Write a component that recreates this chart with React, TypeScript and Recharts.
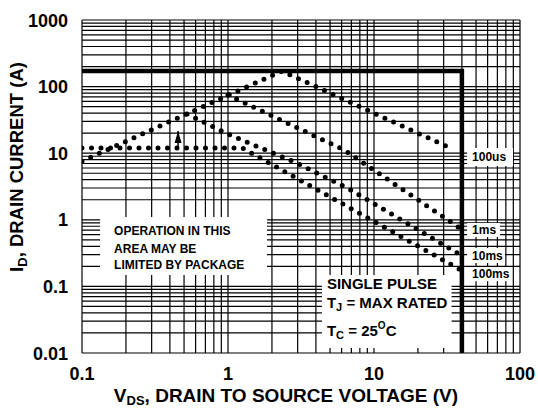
import { ComposedChart, Line, XAxis, YAxis, CartesianGrid, ReferenceArea } from "recharts"

const FONT = "'Liberation Sans', Arial, sans-serif"

// axis ticks (grid lines every 1..9 per decade, labels only on decades)
const xTicks = [0.1, 0.2, 0.3, 0.4, 0.5, 0.6, 0.7, 0.8, 0.9, 1, 2, 3, 4, 5, 6, 7, 8, 9, 10, 20, 30, 40, 50, 60, 70, 80, 90, 100]
const yTicks = [0.01, 0.02, 0.03, 0.04, 0.05, 0.06, 0.07, 0.08, 0.09, 0.1, 0.2, 0.3, 0.4, 0.5, 0.6, 0.7, 0.8, 0.9, 1, 2, 3, 4, 5, 6, 7, 8, 9, 10, 20, 30, 40, 50, 60, 70, 80, 90, 100, 200, 300, 400, 500, 600, 700, 800, 900, 1000]
const xLabels = [0.1, 1, 10, 100]
const yLabels = [0.01, 0.1, 1, 10, 100, 1000]

// curves, v = VDS (V), i = ID (A)
const us100 = [{ v: 0.1, i: 7.6 }, { v: 2.34, i: 171 }, { v: 35.3, i: 11.3 }]
const ms1 = [{ v: 1.0, i: 74.8 }, { v: 6.23, i: 11.2 }, { v: 38.8, i: 0.75 }]
const ms10 = [
  { v: 0.524, i: 38.8 }, { v: 1.03, i: 18.8 }, { v: 2.97, i: 7.1 },
  { v: 6.75, i: 2.9 }, { v: 17.6, i: 0.84 }, { v: 38.8, i: 0.3 }
]
const ms100 = [{ v: 0.1, i: 12 }, { v: 1.25, i: 12 }, { v: 38.8, i: 0.18 }]
const limit = [{ v: 0.1, i: 172 }, { v: 40, i: 172 }, { v: 40, i: 0.01 }]
const arrow = [{ v: 0.455, i: 11.2 }, { v: 0.455, i: 21.5 }]

const XTick = ({ x, y, payload }: any) => {
  if (!xLabels.includes(payload.value)) return <g />
  return (
    <text x={x} y={y + 27} textAnchor="middle" fontSize={18} fontWeight="bold" fontFamily={FONT} fill="#000">
      {String(payload.value)}
    </text>
  )
}

const YTick = ({ x, y, payload }: any) => {
  if (!yLabels.includes(payload.value)) return <g />
  return (
    <text x={x - 14} y={y + 6.5} textAnchor="end" fontSize={18} fontWeight="bold" fontFamily={FONT} fill="#000">
      {String(payload.value)}
    </text>
  )
}

const textProps = { fontWeight: "bold", fontFamily: FONT, fill: "#000" } as any

const PkgNote = ({ viewBox }: any) => {
  const { x, y } = viewBox
  return (
    <text {...textProps} fontSize={12}>
      <tspan x={x + 14} y={y + 17.5}>OPERATION IN THIS</tspan>
      <tspan x={x + 14} y={y + 35.5}>AREA MAY BE</tspan>
      <tspan x={x + 14} y={y + 51.5}>LIMITED BY PACKAGE</tspan>
    </text>
  )
}

const PulseNote = ({ viewBox }: any) => {
  const { x, y } = viewBox
  return (
    <g>
      <text {...textProps} fontSize={15} x={x + 5} y={y + 14}>SINGLE PULSE</text>
      <text {...textProps} fontSize={15} x={x + 5} y={y + 33}>
        T<tspan fontSize={11} dy={3}>J</tspan><tspan dy={-3}> = MAX RATED</tspan>
      </text>
      <text {...textProps} fontSize={15} x={x + 5} y={y + 61}>
        T<tspan fontSize={11} dy={3}>C</tspan><tspan dy={-3}> = 25</tspan>
        <tspan fontSize={10} dy={-7}>O</tspan><tspan dy={7}>C</tspan>
      </text>
    </g>
  )
}

const TagNote = ({ viewBox, text }: any) => {
  const { x, y, height } = viewBox
  return (
    <text {...textProps} fontSize={12} x={x + 5} y={y + height / 2 + 4.3}>{text}</text>
  )
}

const ArrowHead = (props: any) => {
  const { cx, cy, index } = props
  if (index !== arrow.length - 1) return <g key={index} />
  return <polygon key={index} points={`${cx},${cy} ${cx - 3.5},${cy + 12} ${cx + 3.5},${cy + 12}`} fill="#000" />
}

const dotted = {
  dataKey: "i",
  type: "linear" as const,
  stroke: "#000",
  strokeWidth: 5,
  strokeDasharray: "0 9.5",
  strokeLinecap: "round" as const,
  dot: false,
  activeDot: false,
  isAnimationActive: false,
  legendType: "none" as const
}

export default function App() {
  return (
    <div style={{ position: "absolute", left: 0, top: 0, width: 538, height: 409, background: "#fff" }}>
      <ComposedChart width={538} height={409} margin={{ top: 20, right: 18, left: 0, bottom: 0 }}>

        <CartesianGrid stroke="#000" strokeWidth={1.2} />

        <XAxis
          dataKey="v"
          type="number"
          scale="log"
          domain={[0.1, 100]}
          allowDataOverflow
          ticks={xTicks}
          interval={0}
          tick={<XTick />}
          tickLine={false}
          axisLine={false}
          tickSize={0}
          tickMargin={0}
          height={56}
        />
        <YAxis
          dataKey="i"
          type="number"
          scale="log"
          domain={[0.01, 1000]}
          allowDataOverflow
          ticks={yTicks}
          interval={0}
          tick={<YTick />}
          tickLine={false}
          axisLine={false}
          tickSize={0}
          tickMargin={0}
          width={82}
        />

        {/* white note boxes hide the grid */}
        <ReferenceArea x1={0.133} x2={1.85} y1={0.148} y2={1.1} fill="#fff" fillOpacity={1} stroke="none" label={<PkgNote />} />
        <ReferenceArea x1={4.4} x2={34} y1={0.0119} y2={0.148} fill="#fff" fillOpacity={1} stroke="none" label={<PulseNote />} />
        <ReferenceArea x1={43.4} x2={89.6} y1={6.43} y2={12} fill="#fff" fillOpacity={1} stroke="none" label={<TagNote text="100us" />} />
        <ReferenceArea x1={43.4} x2={73} y1={0.552} y2={0.895} fill="#fff" fillOpacity={1} stroke="none" label={<TagNote text="1ms" />} />
        <ReferenceArea x1={43.4} x2={78.9} y1={0.224} y2={0.377} fill="#fff" fillOpacity={1} stroke="none" label={<TagNote text="10ms" />} />
        <ReferenceArea x1={43.4} x2={88} y1={0.12} y2={0.195} fill="#fff" fillOpacity={1} stroke="none" label={<TagNote text="100ms" />} />

        {/* max current / max voltage limit */}
        <Line data={limit} dataKey="i" type="linear" stroke="#000" strokeWidth={4.5} dot={false} activeDot={false} isAnimationActive={false} legendType="none" />

        <Line data={us100} {...dotted} />
        <Line data={ms1} {...dotted} />
        <Line data={ms10} {...dotted} />
        <Line data={ms100} {...dotted} />

        {/* package limit arrow */}
        <Line data={arrow} dataKey="i" type="linear" stroke="#000" strokeWidth={1.5} dot={ArrowHead} activeDot={false} isAnimationActive={false} legendType="none" />

        <text x={286} y={402} textAnchor="middle" fontSize={19} {...textProps}>
          V<tspan fontSize={13} dy={3}>DS</tspan><tspan dy={-3}>, DRAIN TO SOURCE VOLTAGE (V)</tspan>
        </text>
        <text x={23} y={167} textAnchor="middle" fontSize={18.5} {...textProps} transform="rotate(-90 23 167)">
          I<tspan fontSize={13} dy={4}>D</tspan><tspan dy={-4}>, DRAIN CURRENT (A)</tspan>
        </text>
      </ComposedChart>
    </div>
  )
}
